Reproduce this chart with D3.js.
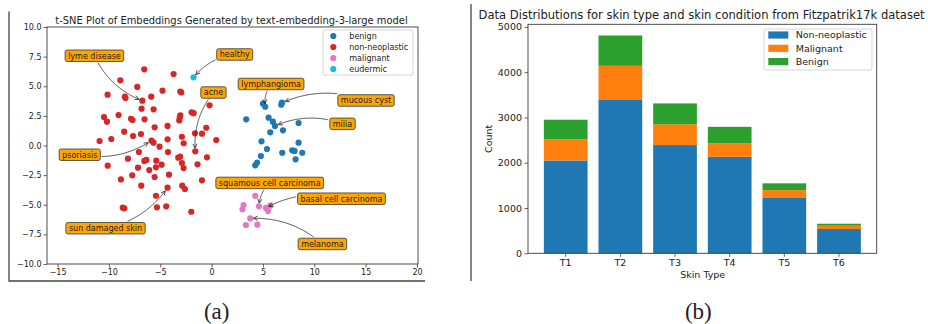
<!DOCTYPE html>
<html>
<head>
<meta charset="utf-8">
<script src="https://cdn.jsdelivr.net/npm/d3@7"></script>
<style>
  body { margin: 0; background: #fff; }
  svg { display: block; }
  text { font-family: "DejaVu Sans", sans-serif; fill: #222; }
</style>
</head>
<body>
<svg id="fig" width="928" height="324"></svg>
<script>
// ---------- (a) t-SNE embedding coordinates ----------
const benignPts = [
  [5.0, 3.53], [5.22, 3.27], [6.85, 3.61], [6.78, 3.44], [3.37, 2.21], [5.55, 2.35],
  [5.97, 2.01], [6.17, 1.65], [8.47, 1.90], [5.71, 1.11], [6.95, 1.28], [4.86, 0.35],
  [8.47, 0.24], [5.39, -0.30], [4.80, -0.89], [6.88, -0.61], [7.85, -0.41], [8.08, -0.46],
  [8.83, -0.61], [8.18, -1.17], [4.42, -1.45], [4.25, -1.67]
];
const nonNeoplasticPts = [
  [-6.56, 6.43], [-3.70, 6.03], [-8.89, 5.50], [-7.24, 4.94], [-10.13, 4.29], [-8.45, 4.12],
  [-8.38, 4.00], [-4.78, 4.63], [-5.88, 4.12], [-3.05, 4.55], [-2.95, 4.48], [-6.75, 3.78],
  [-0.20, 3.39], [-6.82, 3.11], [-5.65, 3.05], [-1.95, 2.80], [-1.75, 2.73], [-10.48, 2.40],
  [-10.19, 2.01], [-9.06, 2.57], [-7.85, 2.25], [-7.70, 2.15], [-6.53, 2.21], [-3.05, 2.55],
  [-3.10, 2.35], [-3.15, 2.12], [-4.29, 1.65], [-5.55, 1.53], [-0.52, 1.50], [-8.51, 1.17],
  [-7.65, 0.80], [-6.88, 0.97], [-0.94, 1.00], [-1.62, 1.03], [-9.77, 0.55], [-10.91, 0.38],
  [-5.85, 0.41], [-5.65, 0.24], [-4.29, 0.52], [-2.89, 0.74], [-2.72, 0.19], [0.45, 0.46],
  [-5.07, -0.10], [-7.08, -0.55], [-4.25, -0.55], [-1.59, -0.49], [-0.45, -1.00], [-10.12, -1.70],
  [-8.15, -1.11], [-6.55, -1.30], [-6.35, -1.22], [-5.39, -1.28], [-4.87, -1.62], [-3.25, -1.03],
  [-3.06, -0.94], [-2.89, -1.48], [-1.37, -1.59], [-7.17, -1.87], [-6.07, -2.07], [-5.42, -1.84],
  [-2.73, -1.90], [-7.73, -2.52], [-5.55, -2.66], [-4.15, -2.46], [-8.83, -2.86], [-0.94, -2.94],
  [-6.85, -3.39], [-2.86, -3.39], [-2.60, -3.67], [-4.29, -3.56], [-5.42, -4.24], [-8.65, -5.25],
  [-8.50, -5.30], [-5.32, -5.22], [-4.42, -5.13], [-1.98, -5.59]
];
const malignantPts = [
  [4.25, -4.24], [3.11, -5.02], [3.01, -5.39], [4.61, -5.13], [5.71, -5.08],
  [5.29, -5.27], [5.49, -5.53], [3.76, -6.15], [3.34, -6.71], [4.45, -6.68]
];
const eudermicPts = [[-1.76, 5.75]];

const scatterGroups = ["benign", "non-neoplastic", "malignant", "eudermic"];
const scatterData = [benignPts, nonNeoplasticPts, malignantPts, eudermicPts];

// annotation label, label anchor (data), annotated point (data)
const noteLabels = ["lyme disease", "healthy", "acne", "lymphangioma", "mucous cyst", "milia",
  "psoriasis", "sun damaged skin", "squamous cell carcinoma", "basal cell carcinoma", "melanoma"];
const noteTextPos = [[-11.41, 7.57], [2.25, 7.68], [0.18, 4.47], [5.79, 5.19], [15.04, 3.80],
  [12.75, 1.83], [-12.84, -0.78], [-10.33, -6.98], [5.66, -3.16], [12.65, -4.49], [10.79, -8.31]];
const notePoint = [[-6.75, 3.78], [-1.76, 5.75], [-1.59, -0.49], [5.22, 3.27], [6.85, 3.61],
  [6.17, 1.65], [-5.85, 0.41], [-4.29, -3.56], [4.61, -5.13], [5.29, -5.27], [3.76, -6.15]];

const xTicksA = [-15, -10, -5, 0, 5, 10, 15, 20];
const yTicksA = [-10, -7.5, -5, -2.5, 0, 2.5, 5, 7.5, 10];

// ---------- (b) Fitzpatrick17k counts per skin type ----------
const skinTypes = ["T1", "T2", "T3", "T4", "T5", "T6"];
const nonNeoplasticCounts = [2050, 3400, 2390, 2130, 1235, 536];
const malignantCounts = [470, 740, 460, 295, 160, 73];
const benignCounts = [430, 670, 460, 368, 150, 44];
const barSeries = ["Non-neoplastic", "Malignant", "Benign"];
const yTicksB = [0, 1000, 2000, 3000, 4000, 5000];

// ---------- drawing ----------
const svg = d3.select("#fig");
const tab10 = d3.schemeCategory10;
const scatterColors = { "benign": tab10[0], "non-neoplastic": tab10[3], "malignant": tab10[6], "eudermic": tab10[9] };
const barColors = [tab10[0], tab10[1], tab10[2]];
const frameColor = "#3a3a3a";

function fitText(sel, width) {
  sel.attr("font-size", 10);
  const w = sel.node().getComputedTextLength();
  sel.attr("font-size", 10 * width / w);
}

// panel frames
svg.append("path").attr("d", "M9,11.5V281H425").attr("fill", "none").attr("stroke", "#444").attr("stroke-width", 1.3);
svg.append("path").attr("d", "M471,4V281").attr("fill", "none").attr("stroke", "#444").attr("stroke-width", 1.3);

// ===== panel (a) =====
const A = { l: 47, r: 418, t: 27, b: 264 };
const xA = d3.scaleLinear().domain([-16.03, 20.1]).range([A.l, A.r]);
const yA = d3.scaleLinear().domain([-10, 10]).range([A.b, A.t]);
const gA = svg.append("g");

const axLA = gA.append("g").attr("transform", `translate(${A.l},0)`)
  .call(d3.axisLeft(yA).tickValues(yTicksA).tickFormat(d3.format(".1f")).tickSize(3.5).tickSizeOuter(0));
const axBA = gA.append("g").attr("transform", `translate(0,${A.b})`)
  .call(d3.axisBottom(xA).tickValues(xTicksA).tickFormat(d3.format("d")).tickSize(3.5).tickSizeOuter(0));
[axLA, axBA].forEach(ax => {
  ax.select(".domain").remove();
  ax.selectAll("line").attr("stroke", frameColor).attr("stroke-width", 0.8);
  ax.selectAll("text").attr("font-size", 8).attr("fill", "#222").style("font-family", "DejaVu Sans");
});
axLA.selectAll("text").attr("x", -5.5);
axBA.selectAll("text").attr("y", 5.5);

gA.append("rect").attr("x", A.l).attr("y", A.t).attr("width", A.r - A.l).attr("height", A.b - A.t)
  .attr("fill", "none").attr("stroke", frameColor).attr("stroke-width", 0.9);

const titleA = gA.append("text").attr("x", 231.5).attr("y", 23.5).attr("text-anchor", "middle")
  .text("t-SNE Plot of Embeddings Generated by text-embedding-3-large model");
fitText(titleA, 353);

scatterGroups.forEach((name, i) => {
  gA.append("g").selectAll("circle").data(scatterData[i]).join("circle")
    .attr("cx", d => xA(d[0])).attr("cy", d => yA(d[1])).attr("r", 3.1)
    .attr("fill", scatterColors[name]);
});

// legend (a)
const legA = gA.append("g");
legA.append("rect").attr("x", 323).attr("y", 30).attr("width", 90).attr("height", 45).attr("rx", 2)
  .attr("fill", "#fff").attr("fill-opacity", 0.8).attr("stroke", "#ccc").attr("stroke-width", 0.8);
scatterGroups.forEach((name, i) => {
  const yy = 36 + i * 11;
  legA.append("circle").attr("cx", 333.3).attr("cy", yy).attr("r", 3.1).attr("fill", scatterColors[name]);
  legA.append("text").attr("x", 349.3).attr("y", yy).attr("dy", "0.35em").attr("font-size", 8).text(name);
});

// annotations with curved arrows (arc3-like, rad = 0.2)
const gNotes = gA.append("g");
noteLabels.forEach((label, i) => {
  const cx = xA(noteTextPos[i][0]), cy = yA(noteTextPos[i][1]);
  const px = xA(notePoint[i][0]), py = yA(notePoint[i][1]);
  const t = gNotes.append("text").attr("x", cx).attr("y", cy).attr("dy", "0.35em")
    .attr("text-anchor", "middle").attr("font-size", 8).attr("fill", "#111").text(label);
  const w = t.node().getComputedTextLength();
  const bw = w + 6, bh = 11.5;
  const box = { x0: cx - bw / 2, x1: cx + bw / 2, y0: cy - bh / 2, y1: cy + bh / 2 };
  gNotes.insert("rect", "text:last-child")
    .attr("x", box.x0).attr("y", box.y0).attr("width", bw).attr("height", bh).attr("rx", 2)
    .attr("fill", "#ffa500").attr("stroke", "#333").attr("stroke-width", 0.8);

  const dx = px - cx, dy = py - cy, f = 0.2;
  const ctrl = [(cx + px) / 2 - f * dy, (cy + py) / 2 + f * dx];
  const bez = tt => [
    (1 - tt) * (1 - tt) * cx + 2 * (1 - tt) * tt * ctrl[0] + tt * tt * px,
    (1 - tt) * (1 - tt) * cy + 2 * (1 - tt) * tt * ctrl[1] + tt * tt * py
  ];
  const pts = d3.range(0, 1.0001, 0.01).map(bez);
  const outside = p => p[0] < box.x0 - 1 || p[0] > box.x1 + 1 || p[1] < box.y0 - 1 || p[1] > box.y1 + 1;
  let k0 = pts.findIndex(outside);
  if (k0 < 0) k0 = 0;
  let path = pts.slice(k0).filter(p => Math.hypot(p[0] - px, p[1] - py) >= 3.2);
  const tip = path[path.length - 1];
  const prev = path[Math.max(0, path.length - 3)];
  gNotes.append("path").attr("d", d3.line()(path)).attr("fill", "none")
    .attr("stroke", "#222").attr("stroke-width", 0.8);
  const ang = Math.atan2(tip[1] - prev[1], tip[0] - prev[0]);
  const hl = 4.2, hw = 2.1;
  const back = [tip[0] - hl * Math.cos(ang), tip[1] - hl * Math.sin(ang)];
  const nx = -Math.sin(ang), ny = Math.cos(ang);
  gNotes.append("path")
    .attr("d", `M${back[0] + hw * nx},${back[1] + hw * ny}L${tip[0]},${tip[1]}L${back[0] - hw * nx},${back[1] - hw * ny}`)
    .attr("fill", "none").attr("stroke", "#222").attr("stroke-width", 0.8);
});

// ===== panel (b) =====
const B = { l: 528, r: 876.7, t: 24.3, b: 253.3 };
const xB = d3.scaleBand().domain(skinTypes).range([B.l, B.r]).paddingInner(0.2).paddingOuter(0.29);
const yB = d3.scaleLinear().domain([0, 5057]).range([B.b, B.t]);
const gB = svg.append("g");

const rows = skinTypes.map((s, i) => ({
  type: s, "Non-neoplastic": nonNeoplasticCounts[i], "Malignant": malignantCounts[i], "Benign": benignCounts[i]
}));
const stacked = d3.stack().keys(barSeries)(rows);
stacked.forEach((layer, li) => {
  gB.append("g").selectAll("rect").data(layer).join("rect")
    .attr("x", d => xB(d.data.type)).attr("width", xB.bandwidth())
    .attr("y", d => yB(d[1])).attr("height", d => yB(d[0]) - yB(d[1]))
    .attr("fill", barColors[li]);
});

const axLB = gB.append("g").attr("transform", `translate(${B.l},0)`)
  .call(d3.axisLeft(yB).tickValues(yTicksB).tickFormat(d3.format("d")).tickSize(3.5).tickSizeOuter(0));
const axBB = gB.append("g").attr("transform", `translate(0,${B.b})`)
  .call(d3.axisBottom(xB).tickSize(3.5).tickSizeOuter(0));
[axLB, axBB].forEach(ax => {
  ax.select(".domain").remove();
  ax.selectAll("line").attr("stroke", frameColor).attr("stroke-width", 0.8);
  ax.selectAll("text").attr("font-size", 9.5).attr("fill", "#222").style("font-family", "DejaVu Sans");
});
axLB.selectAll("text").attr("x", -6);
axBB.selectAll("text").attr("y", 5.5);

gB.append("rect").attr("x", B.l).attr("y", B.t).attr("width", B.r - B.l).attr("height", B.b - B.t)
  .attr("fill", "none").attr("stroke", frameColor).attr("stroke-width", 0.9);

const titleB = gB.append("text").attr("x", 701.6).attr("y", 18.8).attr("text-anchor", "middle")
  .text("Data Distributions for skin type and skin condition from Fitzpatrik17k dataset");
fitText(titleB, 446.7);

gB.append("text").attr("x", 702.7).attr("y", 275).attr("dy", "0.35em").attr("text-anchor", "middle")
  .attr("font-size", 9.5).text("Skin Type");
gB.append("text").attr("transform", "translate(488.3,138.8) rotate(-90)").attr("dy", "0.35em")
  .attr("text-anchor", "middle").attr("font-size", 9.5).text("Count");

// legend (b)
const legB = gB.append("g");
legB.append("rect").attr("x", 764).attr("y", 29).attr("width", 108).attr("height", 41).attr("rx", 2)
  .attr("fill", "#fff").attr("fill-opacity", 0.8).attr("stroke", "#ccc").attr("stroke-width", 0.8);
barSeries.forEach((name, i) => {
  const yy = 35 + i * 13.3;
  legB.append("rect").attr("x", 768.3).attr("y", yy - 3.6).attr("width", 20).attr("height", 7.2).attr("fill", barColors[i]);
  legB.append("text").attr("x", 795.7).attr("y", yy).attr("dy", "0.35em").attr("font-size", 9.5).text(name);
});

// sub-figure captions
svg.append("text").attr("x", 216.7).attr("y", 319).attr("text-anchor", "middle")
  .style("font-family", "'Liberation Serif', serif").attr("font-size", 23).attr("fill", "#111").text("(a)");
svg.append("text").attr("x", 698.3).attr("y", 319).attr("text-anchor", "middle")
  .style("font-family", "'Liberation Serif', serif").attr("font-size", 23).attr("fill", "#111").text("(b)");
</script>
</body>
</html>
